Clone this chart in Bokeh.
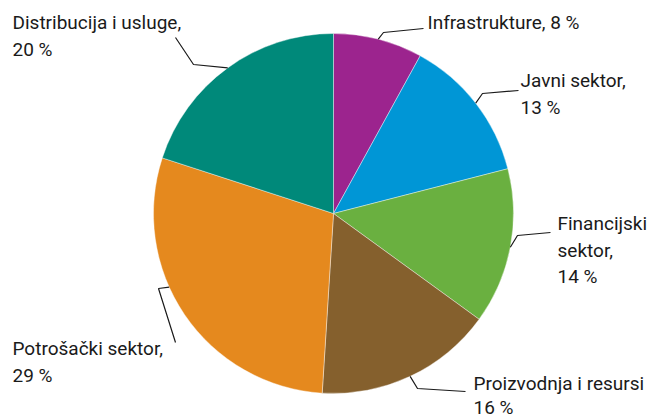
import math
from bokeh.plotting import figure
from bokeh.models import Range1d, ColumnDataSource
from bokeh.core.properties import value
from bokeh.embed import file_html
from bokeh.resources import INLINE

# ---- data ----
categories = ["Infrastrukture", "Javni sektor", "Financijski sektor",
              "Proizvodnja i resursi", "Potrošački sektor", "Distribucija i usluge"]
shares = [8, 13, 14, 16, 29, 20]
colors = ["#9C248E", "#0096D6", "#6AB040", "#85602D", "#E5891E", "#00897A"]
label_lines = [
    ["Infrastrukture, 8 %"],
    ["Javni sektor,", "13 %"],
    ["Financijski", "sektor,", "14 %"],
    ["Proizvodnja i resursi", "16 %"],
    ["Potrošački sektor,", "29 %"],
    ["Distribucija i usluge,", "20 %"],
]

# ---- layout (screen-pixel coordinates, y measured from top) ----
W, H = 653, 419
CX, CY, R = 333, 213, 180
label_pos = [(427, 22), (520, 80), (557, 223), (473, 383), (12, 348), (12, 22)]
line_gaps = [26.5, 26.5, 26.5, 24, 26.5, 26.5]
elbows = [[(383, 32), (423, 28)],
          [(482, 93), (518, 90)],
          [(517, 235), (550, 232)],
          [(417, 388), (465, 391)],
          [(158, 288), (175, 342)],
          [(193, 64), (175, 37)]]
leader_shift = [0, 0, 0, 0, 0.028, 0]  # fraction of full circle

def Y(ys):
    return H - ys

p = figure(width=W, height=H, output_backend="svg", toolbar_location=None,
           x_range=Range1d(0, W), y_range=Range1d(0, H), min_border=0)
p.axis.visible = False
p.grid.visible = False
p.outline_line_color = None
p.background_fill_color = "white"
p.border_fill_color = "white"

total = sum(shares)
starts, ends = [], []
acc = 0
for s in shares:
    a0 = math.pi / 2 - 2 * math.pi * acc / total
    acc += s
    a1 = math.pi / 2 - 2 * math.pi * acc / total
    starts.append(a1)
    ends.append(a0)

src = ColumnDataSource(dict(start=starts, end=ends, color=colors, cat=categories))
p.wedge(x=CX, y=Y(CY), radius=R, start_angle="start", end_angle="end",
        direction="anticlock", fill_color="color", line_color="white",
        line_width=0.4, source=src)

# leader lines + labels
acc = 0
for i, s in enumerate(shares):
    mid = (acc + s / 2) / total + leader_shift[i]
    acc += s
    ang = 2 * math.pi * mid
    sx = CX + R * math.sin(ang)
    sy = CY - R * math.cos(ang)
    xs = [sx] + [e[0] for e in elbows[i]]
    ys = [Y(sy)] + [Y(e[1]) for e in elbows[i]]
    p.line(xs, ys, line_color="#1a1a1a", line_width=1.2)
    lx, ly = label_pos[i]
    for k, t in enumerate(label_lines[i]):
        p.text(x=[lx], y=[Y(ly + k * line_gaps[i])], text=[t],
               text_font=value("Roboto"), text_font_size="19px",
               text_color="#1a1a1a", text_baseline="middle", text_align="left")

open("out.html", "w").write(file_html(p, INLINE))
